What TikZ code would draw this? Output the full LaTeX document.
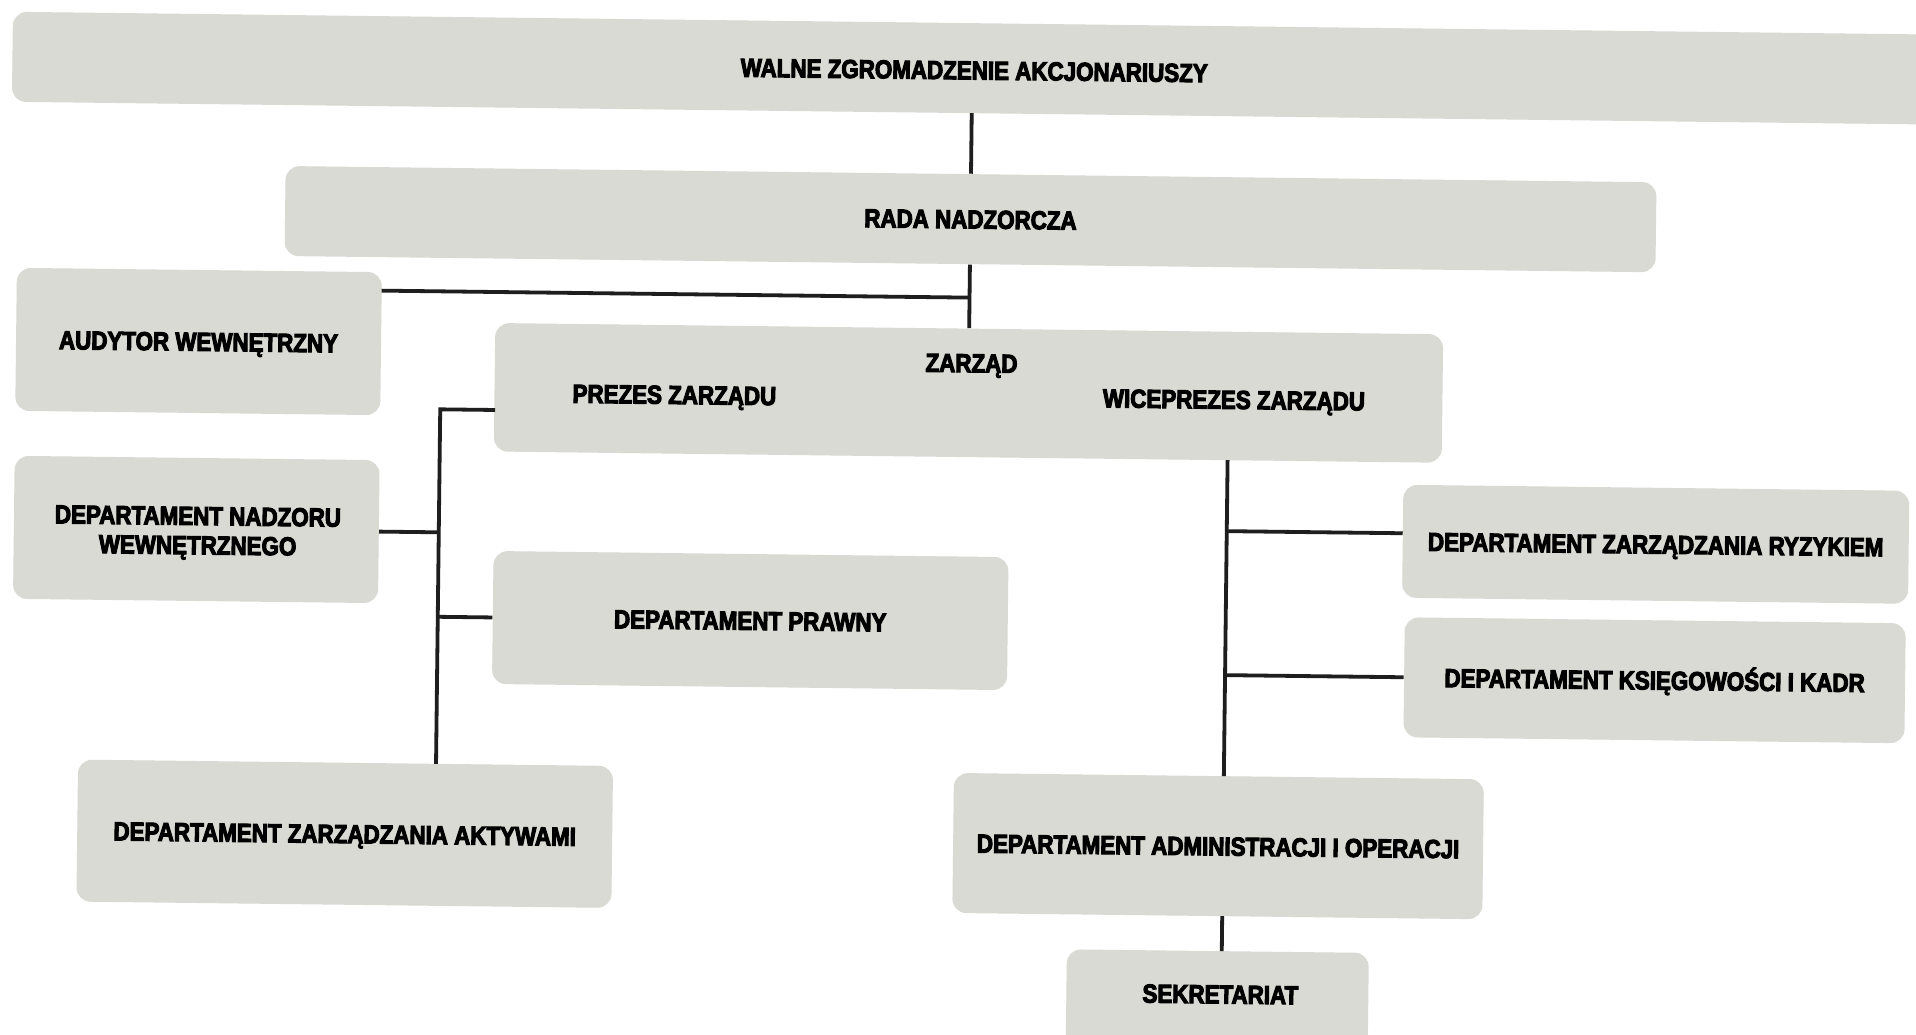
\documentclass[tikz,border=0pt]{standalone}
\usepackage{fontspec}
\newfontfamily\hfont{Liberation Sans}[UprightFont={* Bold}, FakeStretch=0.86, FakeBold=4]
\definecolor{boxgray}{RGB}{216,218,211}
\definecolor{linegray}{RGB}{30,30,30}
\begin{document}
\begin{tikzpicture}[x=0.5pt, y=-0.5pt,
  txt/.style={font=\hfont\fontsize{13}{14.6}\selectfont, text=black, align=center},
  one/.style={text height=9.3pt, text depth=0pt},
  box/.style={fill=boxgray, rounded corners=7pt, inner sep=0pt, txt},
  lbl/.style={inner sep=0pt, txt, one},
  conn/.style={draw=linegray, line width=1.9pt}]
\useasboundingbox (0,0) rectangle (1916,1034);
\fill[white] (0,0) rectangle (1916,1034);
\clip (0,0) rectangle (1916,1034);
\begin{scope}[rotate around={-0.68:(958,517)}, transform shape]
  % boxes
  \node[box, minimum width=976.5pt, minimum height=45pt] (walne) at (983.5,68) {};
  \node[lbl] (walnetxt) at (969,70) {WALNE ZGROMADZENIE AKCJONARIUSZY};
  \node[box, one, minimum width=685.5pt, minimum height=45pt] (rada) at (967,219) {RADA NADZORCZA};
  \node[box, one, minimum width=182.5pt, minimum height=71.5pt] (audytor) at (196.5,350.5) {AUDYTOR WEWNĘTRZNY};
  \node[box, minimum width=474pt, minimum height=64.25pt] (zarzad) at (967,392.75) {};
  \node[lbl] (zarzadtxt) at (969.7,362.8) {ZARZĄD};
  \node[lbl] (prezes) at (673,398) {PREZES ZARZĄDU};
  \node[lbl] (wiceprezes) at (1232.6,396.3) {WICEPREZES ZARZĄDU};
  \node[box, minimum width=182.5pt, minimum height=71.5pt] (nadzoru) at (196.5,538.5) {};
  \node[lbl] (nadzoru1) at (198,524.7) {DEPARTAMENT NADZORU};
  \node[lbl] (nadzoru2) at (198,554) {WEWNĘTRZNEGO};
  \node[box, one, minimum width=257.5pt, minimum height=66.5pt] (prawny) at (751.5,623) {DEPARTAMENT PRAWNY};
  \node[box, one, minimum width=267.5pt, minimum height=71pt] (aktywa) at (348.5,841) {DEPARTAMENT ZARZĄDZANIA AKTYWAMI};
  \node[box, one, minimum width=253pt, minimum height=56.5pt] (ryzyko) at (1656,536) {DEPARTAMENT ZARZĄDZANIA RYZYKIEM};
  \node[box, one, minimum width=250.5pt, minimum height=60pt] (ksieg) at (1656.5,672) {DEPARTAMENT KSIĘGOWOŚCI I KADR};
  \node[box, one, minimum width=265pt, minimum height=70pt] (admin) at (1222,843) {DEPARTAMENT ADMINISTRACJI I OPERACJI};
  \node[box, minimum width=151pt, minimum height=56pt] (sek) at (1223,1004) {};
  \node[lbl] (sektxt) at (1226,991) {SEKRETARIAT};
  % connector points
  \coordinate (w1) at (967,113);
  \coordinate (j1) at (967,297.5);
  \coordinate (a1) at (379,297.5);
  \coordinate (l0) at (494,415.5);
  \coordinate (l1) at (439,415.5);
  \coordinate (l2) at (439,538.5);
  \coordinate (l3) at (439,623);
  \coordinate (l4) at (439,770);
  \coordinate (q0) at (1227,457);
  \coordinate (q1) at (1227,528);
  \coordinate (q1e) at (1403,528);
  \coordinate (q2) at (1227,672);
  \coordinate (q3) at (1227,773);
  \coordinate (q4) at (1227,913);
  \coordinate (q5) at (1227,948);
  % connectors
  \draw[conn] (w1) -- (rada.north);
  \draw[conn] (rada.south) -- (zarzad.north);
  \draw[conn] (a1) -- (j1);
  \draw[conn] (l0) -- (l1) -- (l4);
  \draw[conn] (nadzoru.east) -- (l2);
  \draw[conn] (prawny.west) -- (l3);
  \draw[conn] (q0) -- (q3);
  \draw[conn] (q1) -- (q1e);
  \draw[conn] (ksieg.west) -- (q2);
  \draw[conn] (q4) -- (q5);
\end{scope}
\end{tikzpicture}
\end{document}
